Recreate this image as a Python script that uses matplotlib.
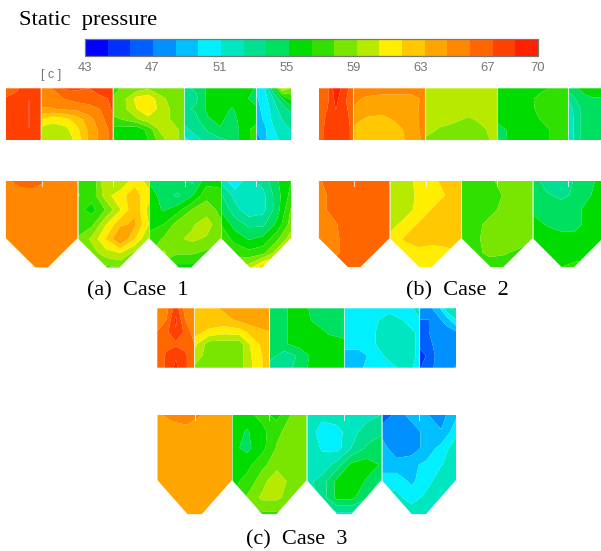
import numpy as np
import matplotlib
matplotlib.use('Agg')
import matplotlib.pyplot as plt
from matplotlib.colors import ListedColormap, BoundaryNorm
from matplotlib.cm import ScalarMappable
from matplotlib.patches import Polygon

# Colour scale, 20 bands between 43 and 70
band_colors = ['#0000ff', '#0030ff', '#0060ff', '#0090ff', '#00c0ff', '#00f0ff', '#00e6c0',
               '#00e090', '#00e060', '#00dc00', '#30e000', '#78e600', '#b8ea00', '#ffee00',
               '#ffc800', '#ffa500', '#ff8800', '#ff6600', '#ff4000', '#ff2000']
tick_values = [43, 47, 51, 55, 59, 63, 67, 70]

# Pressure, rows run top to bottom
c1_top_1 = [[66.8, 67.2, 68.0, 67.5], [67.5, 67.6, 68.7, 67.6], [67.6, 67.6, 68.7, 67.8],
            [67.6, 67.6, 68.7, 67.6], [67.4, 67.6, 68.0, 67.5]]
c1_top_2 = [[65.5, 66.0, 67.5, 67.5, 67.3, 68.0, 68.0], [65.0, 65.5, 66.0, 66.5, 66.5, 67.0, 67.5],
            [64.5, 64.5, 64.8, 65.0, 65.5, 66.0, 67.5], [62.0, 61.0, 61.5, 62.5, 64.0, 65.5, 67.0],
            [60.0, 59.8, 60.0, 61.5, 63.5, 65.0, 66.5], [59.5, 59.5, 59.5, 61.0, 63.5, 65.0, 66.5]]
c1_top_3 = [[57.0, 58.5, 58.5, 59.0, 58.0, 58.5, 58.5], [58.0, 59.0, 61.0, 61.5, 59.8, 58.5, 58.5],
            [58.5, 59.0, 60.5, 62.0, 60.0, 59.0, 58.5], [57.5, 58.0, 59.0, 60.0, 60.0, 59.0, 58.5],
            [56.0, 55.8, 55.5, 57.0, 59.5, 60.0, 58.5], [55.5, 55.3, 55.5, 56.5, 58.5, 60.0, 58.5]]
c1_top_4 = [[53.5, 54.0, 55.5, 55.5, 56.0, 56.0, 55.0], [53.0, 53.5, 55.5, 56.0, 56.0, 55.5, 54.5],
            [53.5, 54.0, 55.5, 56.0, 55.0, 56.0, 55.5], [53.0, 53.5, 55.0, 55.5, 54.5, 56.0, 56.0],
            [52.0, 53.0, 54.0, 55.0, 54.0, 56.0, 57.0], [50.5, 52.0, 53.0, 53.5, 54.0, 56.0, 57.0]]
c1_top_5 = [[50.0, 51.0, 55.0, 60.5, 59.0], [49.5, 50.5, 52.5, 55.0, 57.0], [49.5, 50.0, 52.0, 53.0, 54.5],
            [49.0, 50.0, 51.5, 52.5, 53.0], [48.5, 49.5, 51.0, 52.0, 52.5], [47.0, 49.5, 50.5, 51.5, 52.0]]

c2_top_1 = [[67.0, 67.0, 69.5, 68.0, 66.5], [66.5, 67.0, 69.0, 67.5, 66.5], [66.5, 67.5, 68.5, 68.0, 66.5],
            [66.5, 67.8, 68.2, 68.2, 66.8], [66.5, 67.8, 68.0, 68.2, 66.8]]
c2_top_2 = [[65.5, 65.5, 65.5, 65.5, 65.5, 65.5], [65.0, 64.3, 64.0, 64.0, 64.0, 65.0],
            [64.5, 64.0, 63.9, 63.9, 63.9, 65.2], [63.8, 63.0, 62.8, 63.5, 63.8, 65.2],
            [63.0, 62.7, 62.5, 62.8, 63.8, 65.2], [62.8, 62.6, 62.4, 62.8, 63.6, 65.0]]
c2_top_3 = [[59.9, 59.9, 59.9, 59.9, 59.9, 59.9], [59.9, 59.9, 59.9, 59.9, 59.9, 59.9],
            [59.9, 59.9, 59.9, 59.9, 59.9, 59.9], [59.9, 59.9, 59.5, 59.0, 59.5, 59.9],
            [59.9, 59.0, 58.7, 58.8, 59.0, 59.8], [58.9, 58.5, 58.5, 59.0, 58.5, 59.9]]
c2_top_4 = [[55.8, 55.8, 55.8, 56.0, 56.8, 57.0], [55.8, 55.8, 55.8, 57.0, 57.0, 57.0],
            [55.8, 55.8, 55.8, 56.9, 57.0, 56.9], [55.8, 55.8, 55.8, 56.5, 57.0, 57.0],
            [54.0, 55.8, 55.8, 55.8, 56.8, 57.0], [53.5, 55.8, 55.8, 55.8, 56.8, 57.0]]
c2_top_5 = [[54.5, 55.0, 56.0, 56.5, 56.5], [52.5, 54.0, 54.5, 55.0, 55.0], [51.8, 53.0, 54.5, 54.5, 54.5],
            [51.5, 53.0, 54.5, 54.5, 54.5], [51.5, 53.0, 54.5, 54.5, 54.5], [51.5, 53.0, 54.5, 54.5, 54.5]]

c3_top_1 = [[65.2, 65.5, 68.0, 65.5, 65.2], [65.2, 66.0, 69.0, 66.0, 65.2], [66.0, 67.0, 68.5, 67.0, 65.2],
            [66.5, 67.0, 67.0, 67.0, 66.0], [66.5, 67.5, 68.5, 67.5, 66.5], [66.5, 67.5, 69.0, 67.5, 66.5]]
c3_top_2 = [[62.5, 62.8, 63.5, 64.0, 64.0, 64.0], [62.5, 62.8, 62.8, 63.5, 64.0, 64.0],
            [62.5, 61.5, 61.0, 61.2, 62.6, 63.2], [61.0, 58.5, 58.5, 58.5, 61.5, 62.7],
            [60.0, 58.5, 58.5, 58.5, 61.0, 62.7], [59.0, 58.5, 58.5, 58.6, 60.8, 62.7]]
c3_top_3 = [[55.0, 55.0, 55.7, 54.8, 54.5, 54.5], [55.0, 55.0, 55.7, 55.0, 54.5, 54.5],
            [55.0, 55.0, 55.7, 55.7, 55.0, 54.5], [54.8, 55.0, 55.7, 55.7, 55.7, 55.7],
            [54.5, 53.0, 54.0, 55.7, 55.7, 55.7], [53.0, 53.0, 54.5, 55.7, 55.7, 55.7]]
c3_top_4 = [[49.5, 50.5, 50.5, 50.5, 50.5, 51.5], [50.3, 50.5, 50.7, 52.0, 51.0, 51.0],
            [50.4, 50.5, 51.0, 52.0, 51.9, 50.8], [50.4, 50.5, 51.0, 52.0, 52.0, 50.8],
            [49.0, 49.0, 50.4, 51.5, 52.0, 50.8], [48.5, 49.5, 50.4, 50.6, 51.5, 50.8]]
c3_top_5 = [[48.5, 48.0, 49.0, 52.0, 53.0], [47.0, 47.0, 48.0, 49.0, 51.0], [46.5, 47.0, 47.8, 47.8, 48.2],
            [46.0, 46.5, 47.8, 47.8, 48.0], [45.0, 46.0, 47.5, 47.8, 48.0], [45.5, 46.5, 47.5, 48.0, 48.5]]

c1_hop_1 = [[65.6, 66.5, 66.6, 65.8, 65.3, 65.3], [65.3, 65.3, 65.3, 65.3, 65.3, 65.3], [65.3, 65.3, 65.3, 65.3, 65.3, 65.3],
            [65.3, 65.3, 65.3, 65.3, 65.3, 65.3], [65.3, 65.3, 65.3, 65.3, 65.3, 65.3], [65.3, 65.3, 65.3, 65.3, 65.3, 65.3],
            [65.3, 65.3, 65.3, 65.3, 65.3, 65.3]]
c1_hop_2 = [[57.5, 56.5, 60.5, 59.0, 61.5, 60.0], [58.0, 57.0, 60.0, 61.5, 62.5, 61.0], [57.0, 56.0, 58.0, 60.5, 63.0, 60.0],
            [57.0, 57.5, 60.5, 63.0, 63.5, 60.5], [58.0, 59.5, 62.0, 64.8, 62.0, 59.0], [58.5, 58.5, 60.0, 60.5, 58.8, 58.5],
            [58.0, 58.0, 57.5, 57.8, 58.0, 58.0]]
c1_hop_3 = [[55.0, 54.0, 55.0, 53.5, 56.0, 56.0], [56.0, 54.5, 53.5, 55.0, 57.5, 57.0], [56.0, 55.0, 56.0, 58.0, 58.5, 57.5],
            [56.0, 56.5, 58.5, 59.0, 60.0, 58.0], [57.0, 58.0, 59.0, 59.5, 59.0, 58.0], [57.5, 59.5, 58.0, 58.0, 57.5, 57.0],
            [56.0, 56.0, 56.0, 56.0, 56.0, 56.0]]
c1_hop_4 = [[52.0, 50.0, 52.0, 53.0, 55.0, 56.5], [54.0, 52.0, 51.5, 52.0, 54.5, 57.0], [55.0, 53.0, 51.5, 52.0, 54.5, 58.0],
            [56.5, 54.5, 53.5, 53.5, 55.5, 58.5], [57.5, 56.0, 55.0, 55.5, 57.5, 60.0], [58.5, 57.5, 57.0, 57.5, 60.0, 59.5],
            [59.0, 59.0, 60.0, 63.0, 62.0, 60.0]]

c2_hop_1 = [[65.8, 66.5, 66.5, 66.5, 66.5, 66.5], [65.5, 66.3, 66.5, 66.5, 66.5, 66.5], [65.5, 66.3, 66.5, 66.5, 66.5, 66.5],
            [65.5, 65.7, 66.5, 66.5, 66.5, 66.5], [65.0, 65.5, 66.5, 66.5, 66.5, 66.5], [65.0, 65.5, 66.5, 66.5, 66.5, 66.5],
            [66.5, 66.5, 66.5, 66.5, 66.5, 66.5]]
c2_hop_2 = [[59.8, 59.8, 61.0, 61.5, 62.5, 62.5], [59.8, 59.8, 60.8, 61.2, 62.0, 62.5], [59.8, 59.8, 61.0, 62.0, 62.5, 62.5],
            [59.9, 61.0, 62.0, 62.5, 62.5, 62.5], [61.0, 62.0, 62.5, 62.5, 62.5, 62.4], [61.0, 61.5, 61.5, 61.2, 61.5, 62.0],
            [61.0, 61.0, 61.0, 61.0, 61.0, 61.0]]
c2_hop_3 = [[57.0, 57.0, 57.5, 58.5, 58.8, 58.8], [57.0, 57.0, 57.0, 58.0, 58.8, 58.8], [57.0, 57.0, 57.2, 58.5, 58.8, 58.8],
            [57.0, 57.2, 58.5, 58.8, 58.8, 58.8], [57.0, 57.5, 58.6, 58.8, 58.8, 58.0], [57.0, 57.5, 58.2, 58.0, 57.5, 57.0],
            [57.0, 57.0, 57.0, 57.0, 57.0, 57.0]]
c2_hop_4 = [[54.7, 53.0, 52.5, 54.0, 54.5, 56.0], [54.8, 54.0, 53.5, 54.0, 55.0, 56.0], [54.8, 54.7, 54.5, 54.6, 55.8, 56.0],
            [55.8, 55.0, 54.5, 54.5, 55.8, 56.0], [56.0, 56.0, 55.8, 55.8, 56.0, 56.0], [56.0, 56.0, 56.0, 56.0, 56.0, 56.0],
            [57.0, 56.8, 56.5, 56.8, 57.0, 57.0]]

c3_hop_1 = [[64.4, 65.0, 65.5, 64.6, 64.0, 64.0], [64.0, 64.0, 64.0, 64.0, 64.0, 64.0], [64.0, 64.0, 64.0, 64.0, 64.0, 64.0],
            [64.0, 64.0, 64.0, 64.0, 64.0, 64.0], [64.0, 64.0, 64.0, 64.0, 64.0, 64.0], [64.0, 64.0, 64.0, 64.0, 64.0, 64.0],
            [64.0, 64.0, 64.0, 64.0, 64.0, 64.0]]
c3_hop_2 = [[56.0, 56.0, 57.0, 56.0, 58.0, 58.5], [56.0, 55.0, 56.0, 57.5, 58.5, 58.5], [55.5, 54.8, 56.0, 58.0, 58.5, 58.5],
            [55.8, 56.0, 57.5, 58.5, 58.5, 58.5], [56.0, 57.0, 58.5, 60.5, 58.5, 58.0], [56.5, 58.0, 59.5, 59.5, 58.5, 57.0],
            [56.0, 57.0, 57.5, 57.5, 57.0, 56.5]]
c3_hop_3 = [[52.0, 51.5, 52.0, 51.5, 52.0, 52.5], [52.0, 50.5, 50.5, 52.0, 53.0, 53.5], [52.0, 51.0, 50.5, 52.5, 54.0, 55.0],
            [52.0, 51.5, 53.0, 55.5, 55.8, 55.0], [52.0, 53.0, 55.5, 56.0, 55.0, 53.5], [51.5, 53.0, 55.5, 55.5, 54.0, 52.5],
            [51.0, 51.5, 52.0, 52.0, 51.5, 51.0]]
c3_hop_4 = [[46.0, 47.5, 49.0, 48.5, 47.8, 49.5], [48.0, 47.5, 47.5, 49.0, 48.5, 50.5], [49.0, 47.5, 47.5, 49.0, 50.2, 52.0],
            [49.0, 49.0, 49.5, 50.0, 51.0, 52.0], [50.5, 50.5, 49.5, 50.5, 52.0, 52.0], [52.0, 51.5, 50.5, 51.5, 52.0, 52.0],
            [52.5, 52.5, 52.0, 52.0, 52.0, 52.0]]

# Layout in picture pixels
top_rows = [
    ([c1_top_1, c1_top_2, c1_top_3, c1_top_4, c1_top_5], [5.7, 40.7, 112.7, 184, 256, 291], 88.3, 140),
    ([c2_top_1, c2_top_2, c2_top_3, c2_top_4, c2_top_5], [318.7, 353, 425.3, 497, 568.3, 601], 88.3, 140),
    ([c3_top_1, c3_top_2, c3_top_3, c3_top_4, c3_top_5], [157.3, 194.3, 269.3, 344, 419.3, 456], 308.3, 367.7),
]
hopper_rows = [
    ([c1_hop_1, c1_hop_2, c1_hop_3, c1_hop_4], [5.7, 77.5, 149, 221, 291], 181, 238, 267.7, 12),
    ([c2_hop_1, c2_hop_2, c2_hop_3, c2_hop_4], [318.7, 389.7, 461.3, 532.7, 603], 181, 238, 267.3, 12),
    ([c3_hop_1, c3_hop_2, c3_hop_3, c3_hop_4], [157.3, 232, 306.7, 381.7, 456], 415, 480, 514.3, 14),
]

levels = np.linspace(43, 70, 21)
cmap = ListedColormap(band_colors)
norm = BoundaryNorm(levels, cmap.N)

plt.rcParams['font.family'] = ['Liberation Serif', 'DejaVu Serif']

fig = plt.figure(figsize=(6.01, 5.51), dpi=100)
ax = fig.add_axes([0, 0, 1, 1])
ax.set_xlim(0, 601)
ax.set_ylim(551, 0)
ax.axis('off')


def draw_field(grid, x0, x1, y0, y1, outline):
    grid = np.array(grid)
    xs = np.linspace(x0, x1, grid.shape[1])
    ys = np.linspace(y0, y1, grid.shape[0])
    cs = ax.contourf(xs, ys, grid, levels=levels, cmap=cmap, norm=norm, antialiased=True)
    clip = Polygon(outline, closed=True, transform=ax.transData, fc='none', ec='none')
    ax.add_patch(clip)
    cs.set_clip_path(clip)


for grids, edges, y0, y1 in top_rows:
    for i, grid in enumerate(grids):
        x0, x1 = edges[i], edges[i + 1]
        draw_field(grid, x0, x1, y0, y1, [(x0, y0), (x1, y0), (x1, y1), (x0, y1)])
    for x in edges[1:-1]:
        ax.plot([x, x], [y0, y1], color='#e8f4e8', lw=0.8, alpha=0.8)

for grids, edges, y0, y_sh, y1, flat in hopper_rows:
    for i, grid in enumerate(grids):
        x0, x1 = edges[i], edges[i + 1]
        xm = (x0 + x1) / 2
        shape = [(x0, y0), (x1, y0), (x1, y_sh), (xm + flat / 2, y1), (xm - flat / 2, y1), (x0, y_sh)]
        draw_field(grid, x0, x1, y0, y1, shape)
        ax.plot([xm, xm], [y0, y0 + 5], color='white', lw=0.7, alpha=0.8)
    for x in edges[1:-1]:
        ax.plot([x, x], [y0, y_sh], color='#e8f4e8', lw=0.7, alpha=0.7)

# Colour bar
cax = fig.add_axes([85 / 601, 1 - 56 / 551, 453 / 601, 17 / 551])
cb = fig.colorbar(ScalarMappable(norm=norm, cmap=cmap), cax=cax, orientation='horizontal',
                  ticks=tick_values, spacing='proportional', drawedges=False)
cb.ax.minorticks_off()
cb.ax.tick_params(length=0, pad=4, labelsize=9.4, labelcolor='#777777')
for lab in cb.ax.get_xticklabels():
    lab.set_family(['Liberation Sans', 'DejaVu Sans'])
cb.outline.set_edgecolor('#777777')
cb.outline.set_linewidth(0.9)

ax.text(19, 25, 'Static  pressure', fontsize=16.2, color='black', va='baseline', ha='left')
ax.text(51.5, 75, '[ c ]', fontsize=9, color='#777777', ha='center', va='center',
        family=['Liberation Sans', 'DejaVu Sans'])
ax.text(137.5, 295, '(a)  Case  1', fontsize=16, ha='center', va='baseline')
ax.text(457.5, 295, '(b)  Case  2', fontsize=16, ha='center', va='baseline')
ax.text(297, 544, '(c)  Case  3', fontsize=16, ha='center', va='baseline')

fig.savefig('out.png', dpi=100)
